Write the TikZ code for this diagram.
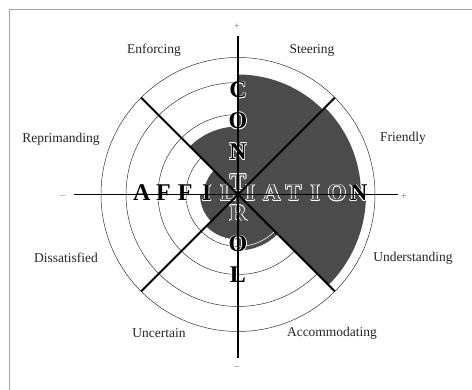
\documentclass[tikz,border=0pt]{standalone}
\usepackage{fontspec}
\setmainfont{Liberation Serif}
\definecolor{sect}{RGB}{75,75,75}
\definecolor{ghost}{RGB}{88,88,88}
\definecolor{ringgray}{RGB}{50,50,50}
\definecolor{framegray}{RGB}{165,165,165}
\tikzset{
  lab/.style={font=\fontsize{13.5}{14}\selectfont, text=black!85, inner sep=0pt},
  sgn/.style={font=\fontsize{10}{10}\selectfont, text=black!55, inner sep=0pt},
  big/.style={font=\fontsize{24}{24}\selectfont\bfseries, inner sep=0pt},
  ringline/.style={draw=ringgray, line width=0.5pt},
  axis/.style={draw=black, line width=1.8pt},
  sector/.style={fill=sect}
}
\newcommand\hcopy[3]{\rlap{\hspace{#1}\raisebox{#2}{\color{white}#3}}}
\newcommand\halotext[2]{\leavevmode
  \hcopy{0.8pt}{0pt}{#2}\hcopy{-0.8pt}{0pt}{#2}\hcopy{0pt}{0.8pt}{#2}\hcopy{0pt}{-0.8pt}{#2}%
  \hcopy{0.56pt}{0.56pt}{#2}\hcopy{-0.56pt}{0.56pt}{#2}\hcopy{0.56pt}{-0.56pt}{#2}\hcopy{-0.56pt}{-0.56pt}{#2}%
  \textcolor{#1}{#2}}
\newcommand\hletter[4]{\node[big] (#1) at (#2) {\halotext{#3}{#4}};}
\begin{document}
\begin{tikzpicture}[x=1pt,y=1pt]
\useasboundingbox (-238,-195.5) rectangle (234,194.5);
\fill[white] (-238,-195.5) rectangle (234,194.5);
\draw[draw=framegray, line width=1pt] (-228,-197) -- (-228,184.5) -- (236,184.5);
\coordinate (o) at (0,0);
% rings
\foreach \r in {137,112,80,52}{\draw[ringline] (o) circle[radius=\r];}
% sectors
\fill[sector] (o) -- (45:120) arc[start angle=45,end angle=90,radius=120] -- cycle;
\fill[sector] (o) -- (0:123) arc[start angle=0,end angle=45,radius=123] -- cycle;
\fill[sector] (o) -- (-45:128) arc[start angle=-45,end angle=0,radius=128] -- cycle;
\fill[sector] (o) -- (-90:56) arc[start angle=-90,end angle=-45,radius=56] -- cycle;
\fill[sector] (o) -- (-135:45) arc[start angle=-135,end angle=-90,radius=45] -- cycle;
\fill[sector] (o) -- (180:38) arc[start angle=180,end angle=225,radius=38] -- cycle;
\fill[sector] (o) -- (135:34) arc[start angle=135,end angle=180,radius=34] -- cycle;
\fill[sector] (o) -- (90:68) arc[start angle=90,end angle=135,radius=68] -- cycle;
\draw[white, line width=0.6pt] (-90:52) arc[start angle=-90,end angle=-45,radius=52];
% CONTROL
\hletter{c1}{0,104.5}{black}{C}
\hletter{c2}{0,73.7}{black}{O}
\hletter{c3}{0,42.9}{black}{N}
\hletter{c4}{0,12.1}{ghost}{T}
\hletter{c5}{0,-18.7}{ghost}{R}
\hletter{c6}{0,-49.5}{black}{O}
\hletter{c7}{0,-80.3}{black}{L}
% AFFILIATION
\hletter{a1}{-96.3,1.5}{black}{A}
\hletter{a2}{-74.6,1.5}{black}{F}
\hletter{a3}{-52.9,1.5}{black}{F}
\hletter{a4}{-31.2,1.5}{black}{I}
\hletter{a5}{-9.5,1.5}{ghost}{L}
\hletter{a6}{12.2,1.5}{ghost}{I}
\hletter{a7}{33.9,1.5}{ghost}{A}
\hletter{a8}{55.6,1.5}{ghost}{T}
\hletter{a9}{77.3,1.5}{ghost}{I}
\hletter{a10}{99,1.5}{ghost}{O}
\hletter{a11}{120.7,1.5}{black}{N}
% axes
\coordinate (xl) at (-164,0);
\coordinate (xr) at (160,0);
\coordinate (yt) at (0,158.5);
\coordinate (yb) at (0,-163.5);
\coordinate (d1) at (135:137);
\coordinate (d2) at (-45:137);
\coordinate (d3) at (45:137);
\coordinate (d4) at (-135:137);
\draw[axis] (xl) -- (xr);
\draw[axis] (yt) -- (yb);
\draw[axis] (d1) -- (d2);
\draw[axis] (d3) -- (d4);
% signs
\node[sgn] (sp1) at (-1,167.5) {+};
\node[sgn] (sm1) at (-1,-173.5) {\textendash};
\node[sgn] (sm2) at (-175,-2.5) {\textendash};
\node[sgn] (sp2) at (166,-2.5) {+};
% labels
\node[lab] (enf) at (-84,144.5) {Enforcing};
\node[lab] (ste) at (74,144.5) {Steering};
\node[lab] (rep) at (-177,55.5) {Reprimanding};
\node[lab] (fri) at (165,56.5) {Friendly};
\node[lab] (dis) at (-172,-63.5) {Dissatisfied};
\node[lab] (und) at (175,-63.5) {Understanding};
\node[lab] (unc) at (-79,-138.5) {Uncertain};
\node[lab] (acc) at (94,-138.5) {Accommodating};
\end{tikzpicture}
\end{document}
